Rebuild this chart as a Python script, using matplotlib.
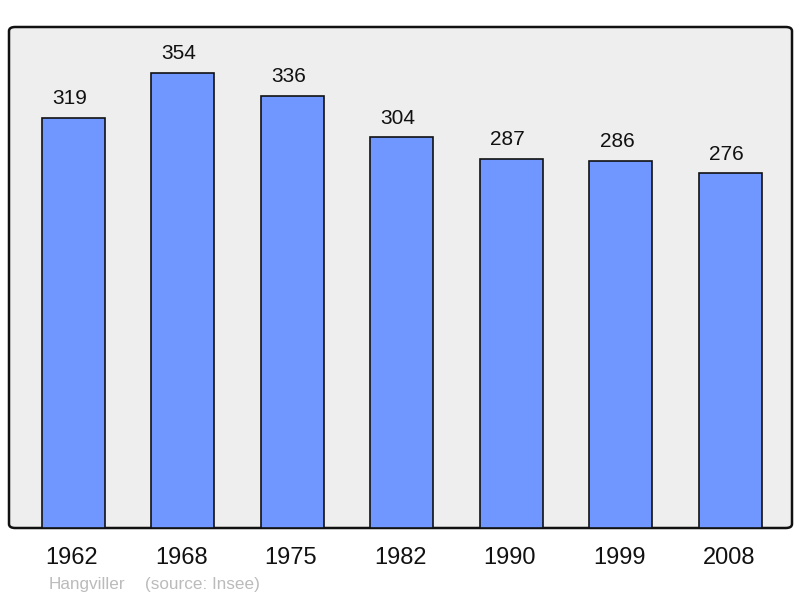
import matplotlib.pyplot as plt
from matplotlib.patches import FancyBboxPatch

plt.rcParams['font.family'] = ['Liberation Sans', 'DejaVu Sans']

years = ['1962', '1968', '1975', '1982', '1990', '1999', '2008']
population = [319, 354, 336, 304, 287, 286, 276]

DPI = 100
fig = plt.figure(figsize=(800/DPI, 598/DPI), dpi=DPI)
ax = fig.add_axes([9/800, 70/598, 783/800, 501/598])
ax.set_xlim(-0.585, 6.565)
ax.set_ylim(0, 390)
ax.axis('off')

# rounded frame behind the bars
frame = FancyBboxPatch((0, 0), 1, 1, boxstyle="round,pad=0,rounding_size=0.008",
                       transform=ax.transAxes, facecolor='#eeeeee',
                       edgecolor='#111111', linewidth=1.8, zorder=0, clip_on=False)
ax.add_patch(frame)

x = range(len(years))
bars = ax.bar(x, population, width=0.575, color='#7096ff',
              edgecolor='#111111', linewidth=1.2, zorder=2)
for xi, v in zip(x, population):
    ax.annotate(str(v), (xi, v), xytext=(-2.5, 10), textcoords='offset points',
                ha='center', va='baseline', fontsize=15, color='#111111')
    ax.annotate(years[xi], (xi, 0), xytext=(-1, -21.5), textcoords='offset points',
                ha='center', va='center', fontsize=17, color='#111111')

fig.text(49/800, 1 - 585/598, 'Hangviller', ha='left', va='center',
         fontsize=12.3, color='#bbbbbb')
fig.text(145/800, 1 - 585/598, '(source: Insee)', ha='left', va='center',
         fontsize=12.3, color='#bbbbbb')

plt.savefig('out.png', dpi=DPI)
